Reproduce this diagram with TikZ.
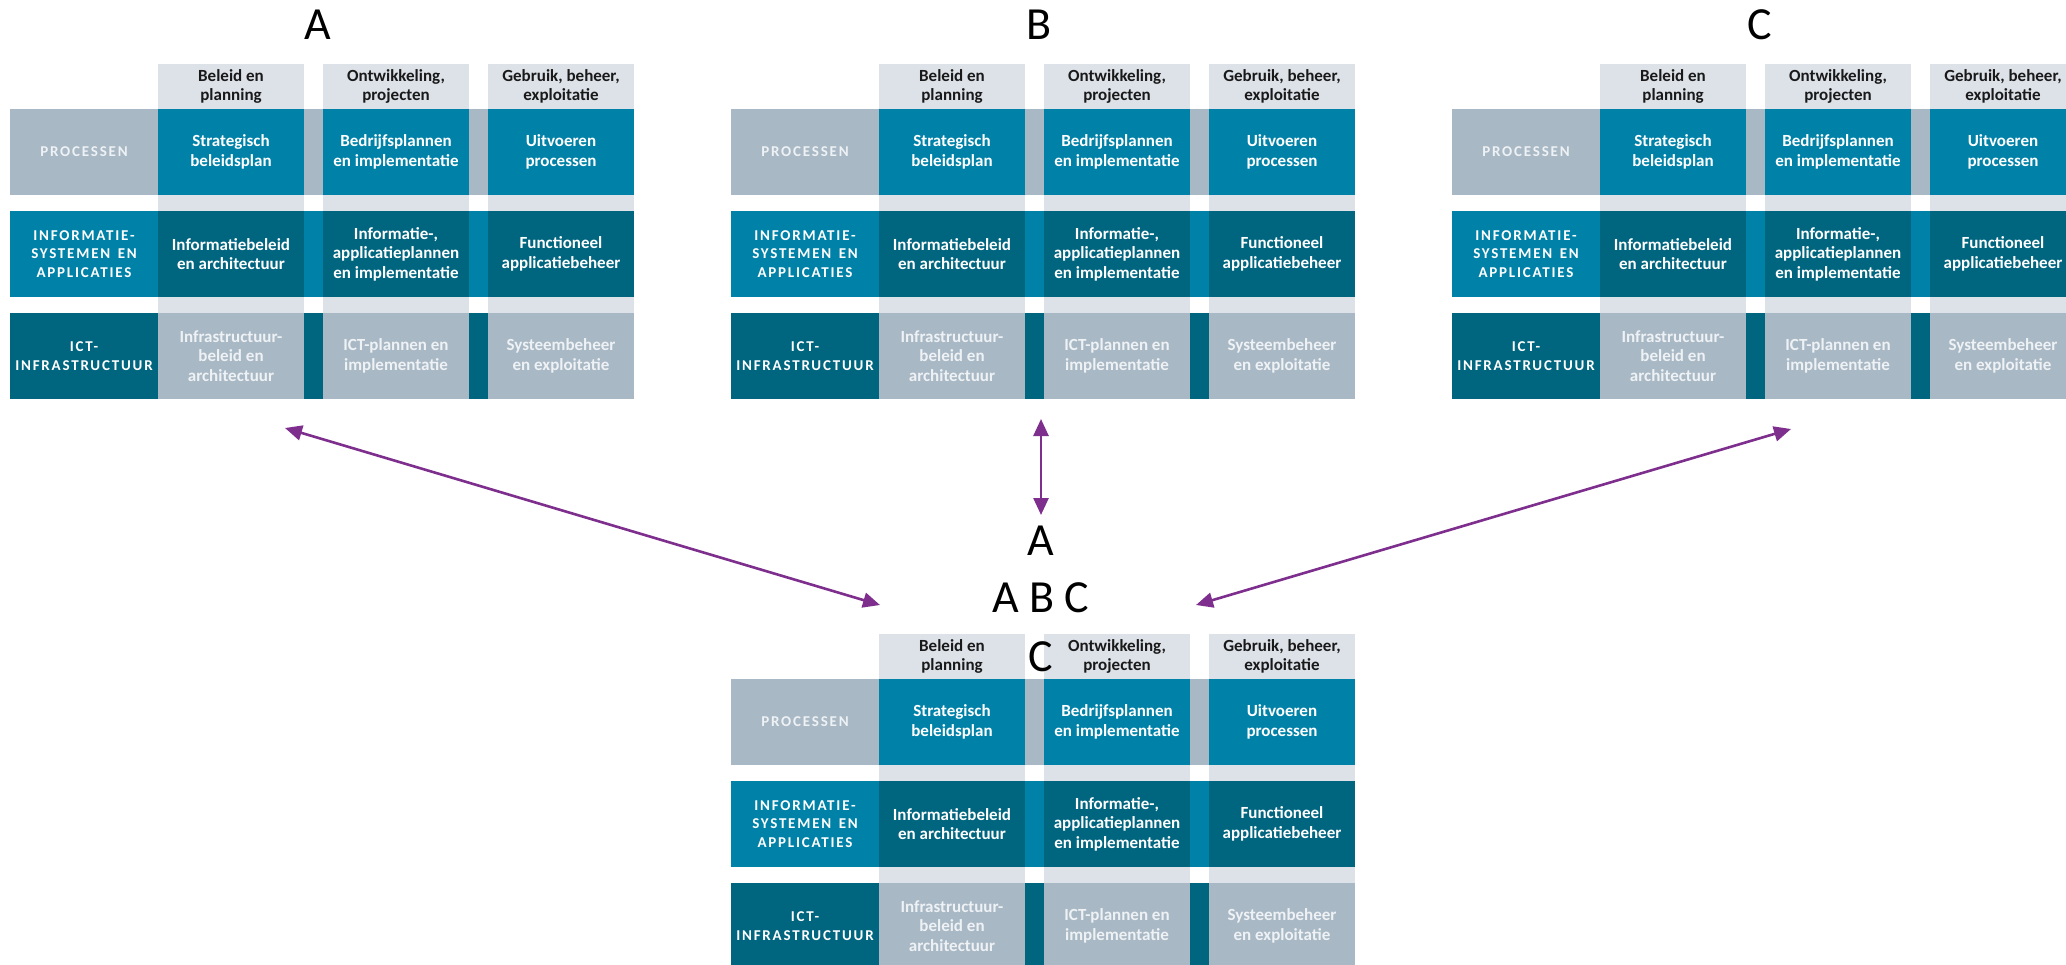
\documentclass[tikz,border=0pt]{standalone}
\usepackage{fontspec}
\setmainfont{Carlito}
\newfontfamily\spacedfont[LetterSpace=12]{Carlito}
\usetikzlibrary{arrows.meta}

\definecolor{hdgrey}{HTML}{DDE2E9}
\definecolor{slate}{HTML}{A9B8C5}
\definecolor{bislteal}{HTML}{0082A8}
\definecolor{bisldark}{HTML}{00657F}
\definecolor{paletext}{HTML}{EEF2F5}
\definecolor{arrowpurple}{HTML}{7E2E8D}

\newcommand\cellfont{\fontsize{17}{19.5}\selectfont\bfseries}
\newcommand\rowfont{\spacedfont\fontsize{15}{18.5}\selectfont\bfseries}

\tikzset{
    head/.style ={rectangle, minimum width=146pt, minimum height=45pt, inner sep=0pt, fill=hdgrey, text=black!90, font=\cellfont, align=center},
    rowlbl/.style ={rectangle, minimum width=148pt, minimum height=86pt, inner sep=0pt, text=paletext, font=\rowfont, align=center},
    cell/.style ={rectangle, minimum width=146pt, minimum height=86pt, inner sep=0pt, text=white, font=\cellfont, align=center},
    letter/.style ={font=\fontsize{46}{46}\selectfont, inner sep=0pt},
    link/.style ={draw=arrowpurple, line width=2.6pt, {Triangle[length=17pt,width=15pt]}-{Triangle[length=17pt,width=15pt]}}}

% one model: #1 name, (#2,#3) top left corner
\newcommand{\bislgrid}[3]{%
\begin{scope}[shift={(#2,#3)}]
    \foreach \cx in {221,386,551}
        \fill[hdgrey] (\cx-73,0) rectangle (\cx+73,335);
    \fill[slate] (0,45) rectangle (624,131);
    \fill[bislteal] (0,147) rectangle (624,233);
    \fill[bisldark] (0,249) rectangle (624,335);
    \node[head] (#1-h1) at (221,22.5){Beleid en\\planning};
    \node[head] (#1-h2) at (386,22.5){Ontwikkeling,\\projecten};
    \node[head] (#1-h3) at (551,22.5){Gebruik, beheer,\\exploitatie};
    \node[rowlbl,fill=slate] (#1-r1) at (74,88){PROCESSEN};
    \node[cell,fill=bislteal] (#1-p1) at (221,88){Strategisch\\beleidsplan};
    \node[cell,fill=bislteal] (#1-p2) at (386,88){Bedrijfsplannen\\en implementatie};
    \node[cell,fill=bislteal] (#1-p3) at (551,88){Uitvoeren\\processen};
    \node[rowlbl,fill=bislteal,text=white] (#1-r2) at (74,190){INFORMATIE-\\SYSTEMEN\enspace EN\\APPLICATIES};
    \node[cell,fill=bisldark] (#1-i1) at (221,190){Informatiebeleid\\en architectuur};
    \node[cell,fill=bisldark] (#1-i2) at (386,190){Informatie-,\\applicatieplannen\\en implementatie};
    \node[cell,fill=bisldark] (#1-i3) at (551,190){Functioneel\\applicatiebeheer};
    \node[rowlbl,fill=bisldark,text=white] (#1-r3) at (74,292){ICT-\\INFRASTRUCTUUR};
    \node[cell,fill=slate,text=paletext] (#1-t1) at (221,292){Infrastructuur-\\beleid en\\architectuur};
    \node[cell,fill=slate,text=paletext] (#1-t2) at (386,292){ICT-plannen en\\implementatie};
    \node[cell,fill=slate,text=paletext] (#1-t3) at (551,292){Systeembeheer\\en exploitatie};
\end{scope}}

\begin{document}
\begin{tikzpicture}[x=1pt,y=-1pt]
    \useasboundingbox (0,0) rectangle (2066,964);
    \begin{scope}
        \clip (0,0) rectangle (2066,964);
        \bislgrid{A}{10}{64}
        \bislgrid{B}{731}{64}
        \bislgrid{C}{1452}{64}
        \bislgrid{D}{731}{634}
    \end{scope}
    \node[letter] (tA) at (318,25){A};
    \node[letter] (tB) at (1039,25){B};
    \node[letter] (tC) at (1760,25){C};
    \node[letter] (dA) at (1041,541){A};
    \node[letter] (dABC) at (1041,598){A B C};
    \node[letter] (dC) at (1041,657){C};
    \coordinate (endA) at (285,428);
    \coordinate (endB) at (1041,419);
    \coordinate (endC) at (1791,429);
    \coordinate (inA) at (880,605);
    \coordinate (inB) at (1041,515);
    \coordinate (inC) at (1196,605);
    \draw[link] (endA) -- (inA);
    \draw[link] (endB) -- (inB);
    \draw[link] (endC) -- (inC);
\end{tikzpicture}
\end{document}
